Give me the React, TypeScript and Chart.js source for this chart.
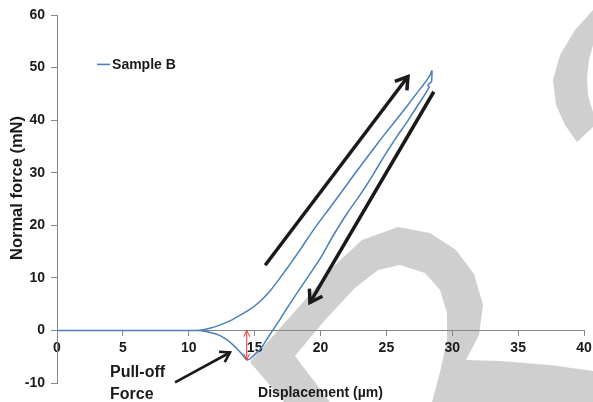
import React, { useEffect, useRef } from 'react';
import { Chart, registerables } from 'chart.js';

Chart.register(...registerables);

// ---- Data ----
const seriesLabel = 'Sample B';
// displacement (µm) along the measured loop: approach/loading then unloading
const displacement = [
  0, 2.5, 5, 7.5, 10, 10.85, 11.6, 12.4, 13.2, 13.9, 14.7, 15.4, 16.2, 16.9, 17.8, 18.6, 19.4, 20.4,
  21.5, 22.6, 23.8, 24.8, 25.8, 26.6, 27.3, 27.8, 28.1, 28.3, 28.46,
  28.42, 28.15, 28.25, 27.8, 27.33, 26.5, 25.8, 24.8, 23.76, 22.9, 22.0, 21.0, 19.96, 19.0, 18.4,
  17.4, 16.9, 16.4, 16.0, 15.6, 15.3, 15.0, 14.7, 14.4, 14.1, 13.7, 13.3, 12.8, 12.2, 11.5, 10.85, 10.2,
];
const normalForce = [
  0, 0, 0, 0, 0, 0.05, 0.4, 1.05, 1.9, 2.9, 4.1, 5.5, 7.6, 9.9, 13.0, 15.9, 18.9, 22.3,
  26.0, 29.8, 33.8, 37.1, 40.2, 42.8, 45.1, 46.7, 47.7, 48.5, 49.4,
  47.3, 46.7, 46.3, 44.4, 42.6, 39.4, 36.9, 33.0, 28.7, 25.4, 22.2, 18.2, 13.6, 10.0, 7.8,
  4.0, 2.0, 0.1, -1.4, -3.0, -3.9, -4.6, -5.3, -5.6, -4.7, -3.6, -2.6, -1.6, -0.8, -0.3, 0, 0,
];
const xTicksStep = 5;
const xRange = [0, 40];
const yTicksStep = 10;
const yRange = [-10, 60];
const xTitle = 'Displacement (µm)';
const yTitle = 'Normal force (mN)';
const pullOffText = ['Pull-off', 'Force'];

// annotation arrows (in data units)
const arrowLoading = { from: [15.8, 12.4], to: [26.64, 48.3] };
const arrowUnloading = { from: [28.6, 45.4], to: [19.2, 5.3] };
const arrowPullOff = { from: [8.96, -9.9], to: [13.13, -4.2] };
const pullOffMarker = { x: 14.4, from: 0, to: -5.6 };
const pullOffTextPos = [4.02, -8.0];
const pullOffLineGap = -4.2;
const legendPos = [3.04, 50.6];

// background watermark outline (design pixels on a 593x402 canvas)
const markMain = [
  [250, 362], [280, 328], [305, 300], [335, 265], [362, 240], [398, 227], [430, 233], [456, 250],
  [474, 274], [483, 305], [479, 335], [466, 360], [500, 361], [550, 365], [593, 371], [600, 371],
  [600, 410], [430, 410], [440, 372], [447, 340], [447, 313], [440, 290], [425, 273], [400, 265],
  [378, 270], [355, 288], [325, 320], [295, 356], [336, 410], [291, 410],
];
const markTop = [
  [593, 10], [575, 30], [560, 55], [553, 80], [556, 105], [565, 125], [577, 142], [593, 127],
  [593, 112], [588, 95], [587, 78], [589, 60], [593, 45],
];

const FONT = "'Liberation Sans', Arial, sans-serif";
const TEXT = '#1a1a1a';
const AXIS = '#868686';
const BLUE = '#4a7ebb';

function drawArrow(ctx: CanvasRenderingContext2D, x1: number, y1: number, x2: number, y2: number,
  color: string, width: number, headLen: number, headAngle: number, both = false) {
  ctx.save();
  ctx.strokeStyle = color;
  ctx.lineWidth = width;
  ctx.lineCap = 'butt';
  ctx.lineJoin = 'miter';
  ctx.beginPath();
  ctx.moveTo(x1, y1);
  ctx.lineTo(x2, y2);
  ctx.stroke();
  const head = (tx: number, ty: number, fx: number, fy: number) => {
    const a = Math.atan2(ty - fy, tx - fx);
    ctx.beginPath();
    ctx.moveTo(tx - headLen * Math.cos(a - headAngle), ty - headLen * Math.sin(a - headAngle));
    ctx.lineTo(tx, ty);
    ctx.lineTo(tx - headLen * Math.cos(a + headAngle), ty - headLen * Math.sin(a + headAngle));
    ctx.stroke();
  };
  head(x2, y2, x1, y1);
  if (both) head(x1, y1, x2, y2);
  ctx.restore();
}

const watermarkPlugin = {
  id: 'watermark',
  beforeDraw(chart: any) {
    const ctx = chart.ctx as CanvasRenderingContext2D;
    const sx = chart.width / 593;
    const sy = chart.height / 402;
    ctx.save();
    ctx.fillStyle = '#cfcfcf';
    for (const poly of [markMain, markTop]) {
      ctx.beginPath();
      poly.forEach(([x, y], i) => (i ? ctx.lineTo(x * sx, y * sy) : ctx.moveTo(x * sx, y * sy)));
      ctx.closePath();
      ctx.fill();
    }
    ctx.restore();
  },
};

const annotationPlugin = {
  id: 'annotations',
  afterDatasetsDraw(chart: any) {
    const ctx = chart.ctx as CanvasRenderingContext2D;
    const xs = chart.scales.x;
    const ys = chart.scales.y;
    const px = (v: number) => xs.getPixelForValue(v);
    const py = (v: number) => ys.getPixelForValue(v);
    const a = (arr: { from: number[]; to: number[] }, w: number, hl: number) =>
      drawArrow(ctx, px(arr.from[0]), py(arr.from[1]), px(arr.to[0]), py(arr.to[1]), '#1a1a1a', w, hl, Math.PI / 5.5);
    a(arrowLoading, 3.5, 14);
    a(arrowUnloading, 3.5, 14);
    a(arrowPullOff, 2.6, 11);
    drawArrow(ctx, px(pullOffMarker.x), py(pullOffMarker.from), px(pullOffMarker.x), py(pullOffMarker.to),
      '#ee3333', 1, 7, Math.PI / 7, true);

    // pull-off label
    ctx.save();
    ctx.fillStyle = TEXT;
    ctx.font = `bold 16px ${FONT}`;
    ctx.textAlign = 'left';
    ctx.textBaseline = 'middle';
    pullOffText.forEach((t, i) => {
      ctx.fillText(t, px(pullOffTextPos[0]), py(pullOffTextPos[1] + i * pullOffLineGap));
    });

    // legend
    const ds = chart.data.datasets[0];
    const lx = px(legendPos[0]);
    const ly = py(legendPos[1]);
    ctx.strokeStyle = ds.borderColor;
    ctx.lineWidth = 1.6;
    ctx.beginPath();
    ctx.moveTo(lx, ly);
    ctx.lineTo(lx + 13, ly);
    ctx.stroke();
    ctx.font = `bold 14px ${FONT}`;
    ctx.fillText(ds.label, lx + 15, ly + 0.5);

    // axis titles
    ctx.font = `bold 14px ${FONT}`;
    ctx.textAlign = 'center';
    ctx.fillText(xTitle, (chart.chartArea.left + chart.chartArea.right) / 2, chart.chartArea.bottom + 10);
    ctx.translate(17, 188);
    ctx.rotate(-Math.PI / 2);
    ctx.font = `bold 16.5px ${FONT}`;
    ctx.fillText(yTitle, 0, 0);
    ctx.restore();
  },
};

export default function App() {
  const ref = useRef<HTMLCanvasElement>(null);
  useEffect(() => {
    document.body.style.margin = '0';
    const canvas = ref.current!;
    const points = displacement.map((x, i) => ({ x, y: normalForce[i] }));
    const chart = new Chart(canvas, {
      type: 'scatter',
      data: {
        datasets: [
          {
            label: seriesLabel,
            data: points,
            showLine: true,
            borderColor: BLUE,
            backgroundColor: BLUE,
            borderWidth: 1.5,
            pointRadius: 0,
            tension: 0.15,
          },
        ],
      },
      options: {
        responsive: false,
        animation: false,
        devicePixelRatio: 1,
        layout: { padding: { top: 15, right: 9, bottom: 19, left: 0 } },
        plugins: { legend: { display: false }, tooltip: { enabled: false } },
        scales: {
          x: {
            type: 'linear',
            min: xRange[0],
            max: xRange[1],
            position: { y: 0 } as any,
            ticks: { stepSize: xTicksStep, font: { family: FONT, size: 14, weight: 'bold' }, color: TEXT, padding: 4 },
            grid: { drawOnChartArea: false, drawTicks: true, tickLength: 5, color: AXIS },
            border: { color: AXIS, width: 1 },
            afterFit: (s: any) => { s.paddingLeft = 0; s.paddingRight = 0; },
          },
          y: {
            type: 'linear',
            min: yRange[0],
            max: yRange[1],
            ticks: { stepSize: yTicksStep, font: { family: FONT, size: 14, weight: 'bold' }, color: TEXT, padding: 6 },
            grid: { drawOnChartArea: false, drawTicks: true, tickLength: 6, color: AXIS },
            border: { color: AXIS, width: 1 },
            afterFit: (s: any) => { s.width = 57; },
          },
        },
      },
      plugins: [watermarkPlugin, annotationPlugin],
    });
    return () => chart.destroy();
  }, []);
  return (
    <div style={{ width: 593, height: 402 }}>
      <canvas ref={ref} width={593} height={402} style={{ display: 'block' }} />
    </div>
  );
}
